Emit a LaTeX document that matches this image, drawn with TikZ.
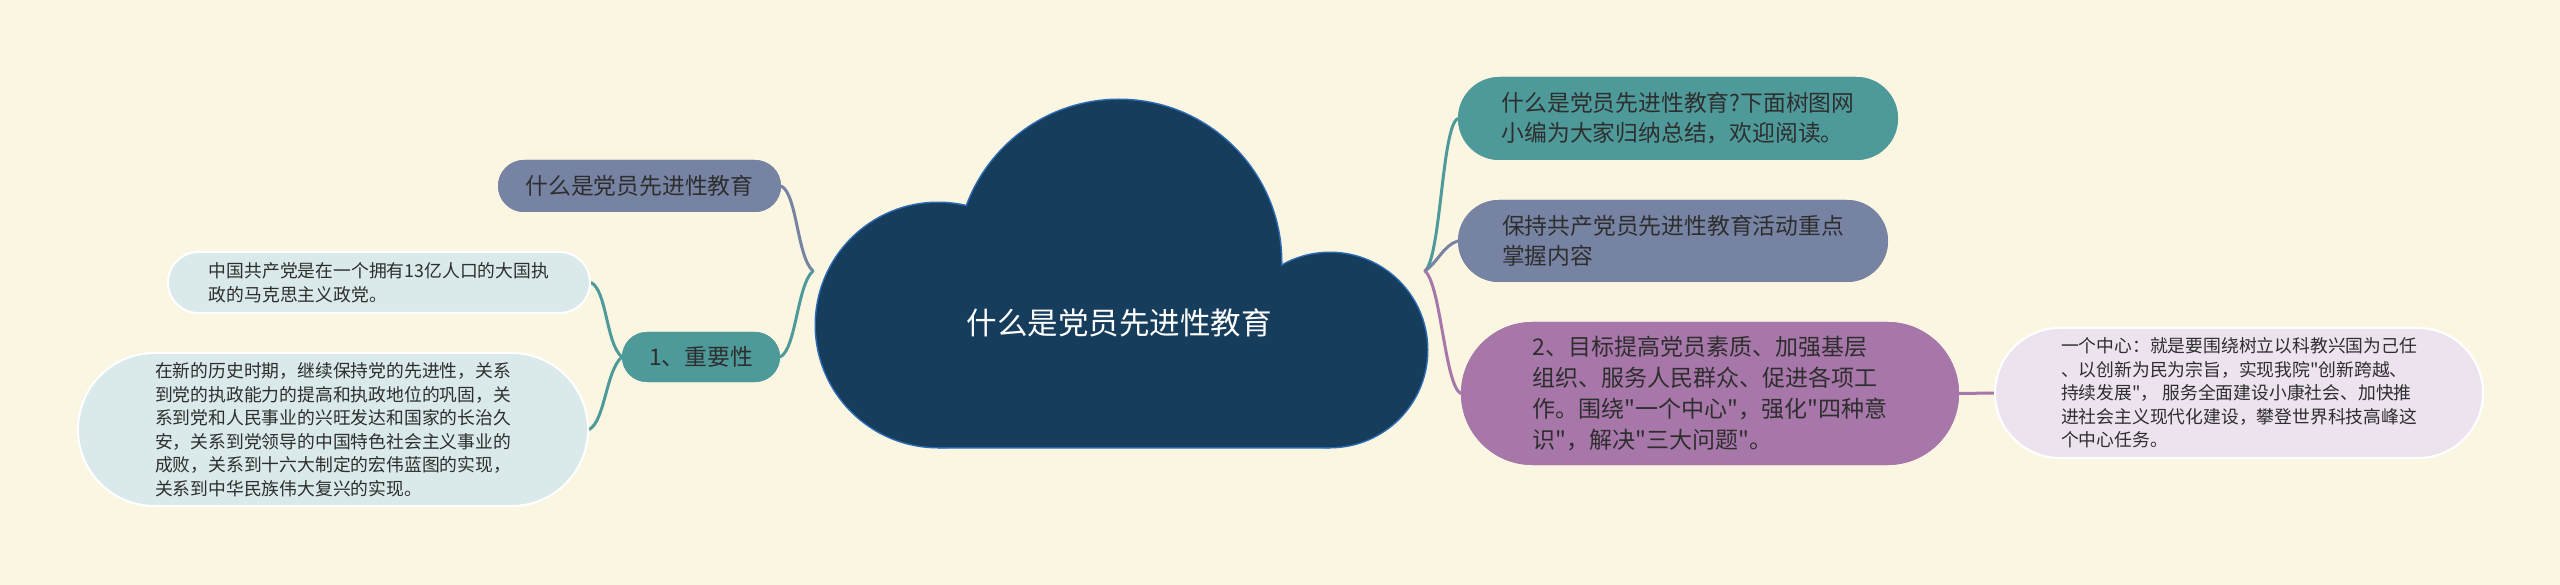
\documentclass[tikz,border=0pt]{standalone}
\usepackage{fontspec}
\setmainfont{Noto Sans CJK SC}[Ligatures=TeXOff]
\usetikzlibrary{calc}
\definecolor{bgc}{HTML}{FAF6E1}
\definecolor{cloudfill}{HTML}{173D5D}
\definecolor{cloudline}{HTML}{2D6CB5}
\definecolor{gbc}{HTML}{7783A3}
\definecolor{tealc}{HTML}{4E9A9A}
\definecolor{purc}{HTML}{A777A9}
\definecolor{leafb}{HTML}{DAE9EA}
\definecolor{leafp}{HTML}{EDE3EF}
\definecolor{txt}{HTML}{2E2E2E}
\begin{document}
\begin{tikzpicture}[x=1pt,y=-1pt,
  pill/.style={rectangle, inner sep=0pt, text=txt, align=left},
  leaf/.style={pill, draw=white, line width=2pt},
  big/.style={font=\fontsize{22.8}{30}\selectfont},
  small/.style={font=\fontsize{17.8}{23.5}\selectfont},
  conn/.style={line width=3pt, line cap=round}]
\fill[bgc] (0,0) rectangle (2560,585);
\useasboundingbox (0,0) rectangle (2560,585);
% junctions
\coordinate (jl) at (813,271);
\coordinate (jr) at (1425,271);
% nodes
\path
  node[pill, big, fill=gbc, minimum width=283pt, minimum height=52pt, rounded corners=26pt] (p1) at (639.5,186) {什么是党员先进性教育}
  node[pill, big, fill=tealc, minimum width=158pt, minimum height=50pt, rounded corners=25pt] (p2) at (701,357) {1、重要性}
  node[leaf, small, fill=leafb, minimum width=422pt, minimum height=61pt, rounded corners=30.5pt] (l1) at (379,282.5) {中国共产党是在一个拥有13亿人口的大国执\\政的马克思主义政党。}
  node[leaf, small, fill=leafb, minimum width=510pt, minimum height=153pt, rounded corners=76.5pt] (l2) at (333,429.5) {在新的历史时期，继续保持党的先进性，关系\\到党的执政能力的提高和执政地位的巩固，关\\系到党和人民事业的兴旺发达和国家的长治久\\安，关系到党领导的中国特色社会主义事业的\\成败，关系到十六大制定的宏伟蓝图的实现，\\关系到中华民族伟大复兴的实现。}
  node[pill, big, fill=tealc, minimum width=440pt, minimum height=83pt, rounded corners=41.5pt] (p5) at (1678,118.5) {什么是党员先进性教育?下面树图网\\小编为大家归纳总结，欢迎阅读。}
  node[pill, big, fill=gbc, minimum width=430pt, minimum height=82pt, rounded corners=41pt] (p6) at (1673,241) {保持共产党员先进性教育活动重点\\掌握内容}
  node[pill, font=\fontsize{23}{31}\selectfont, fill=purc, minimum width=498pt, minimum height=143pt, rounded corners=71.5pt] (p7) at (1710,393.5) {2、目标提高党员素质、加强基层\\组织、服务人民群众、促进各项工\\作。围绕"一个中心"，强化"四种意\\识"，解决"三大问题"。}
  node[leaf, small, fill=leafp, minimum width=488pt, minimum height=130pt, rounded corners=65pt] (l3) at (2239,393) {一个中心：就是要围绕树立以科教兴国为己任\\、以创新为民为宗旨，实现我院"创新跨越、\\持续发展"， 服务全面建设小康社会、加快推\\进社会主义现代化建设，攀登世界科技高峰这\\个中心任务。};
% connectors
\draw[conn, gbc] (p1.east) .. controls ($(p1.east)+(16,8)$) and ($(jl)+(-16,-14)$) .. (jl);
\draw[conn, tealc] (p2.east) .. controls ($(p2.east)+(16,-8)$) and ($(jl)+(-16,14)$) .. (jl);
\draw[conn, tealc] (l1.east) .. controls ($(l1.east)+(16,8)$) and ($(p2.west)+(-16,-14)$) .. (p2.west);
\draw[conn, tealc] (l2.east) .. controls ($(l2.east)+(16,-8)$) and ($(p2.west)+(-16,14)$) .. (p2.west);
\draw[conn, tealc] (jr) .. controls ($(jr)+(16,-14)$) and ($(p5.west)+(-16,8)$) .. (p5.west);
\draw[conn, gbc] (jr) .. controls ($(jr)+(12,-8)$) and ($(p6.west)+(-14,4)$) .. (p6.west);
\draw[conn, purc] (jr) .. controls ($(jr)+(16,14)$) and ($(p7.west)+(-16,-8)$) .. (p7.west);
\draw[conn, purc] (p7.east) -- (l3.west);
% cloud: outlines then fills (union)
\begin{scope}[line join=round]
\draw[cloudline, line width=3pt] (938,325) circle[radius=122];
\draw[cloudline, line width=3pt] (1119,262) circle[radius=162];
\draw[cloudline, line width=3pt] (1330,350) circle[radius=97];
\draw[cloudline, line width=3pt] (938,447) -- (1330,447) -- (1330,350) -- (1119,262) -- (938,325) -- cycle;
\fill[cloudfill] (938,325) circle[radius=122];
\fill[cloudfill] (1119,262) circle[radius=162];
\fill[cloudfill] (1330,350) circle[radius=97];
\fill[cloudfill] (938,447) -- (1330,447) -- (1330,350) -- (1119,262) -- (938,325) -- cycle;
\end{scope}
\node[text=white, font=\fontsize{30.5}{36}\selectfont, inner sep=0pt] (root) at (1119,323) {什么是党员先进性教育};
% redraw nodes on top of connector ends
\path
  node[pill, big, fill=gbc, minimum width=283pt, minimum height=52pt, rounded corners=26pt] at (p1) {什么是党员先进性教育}
  node[pill, big, fill=tealc, minimum width=158pt, minimum height=50pt, rounded corners=25pt] at (p2) {1、重要性}
  node[leaf, small, fill=leafb, minimum width=422pt, minimum height=61pt, rounded corners=30.5pt] at (l1) {中国共产党是在一个拥有13亿人口的大国执\\政的马克思主义政党。}
  node[leaf, small, fill=leafb, minimum width=510pt, minimum height=153pt, rounded corners=76.5pt] at (l2) {在新的历史时期，继续保持党的先进性，关系\\到党的执政能力的提高和执政地位的巩固，关\\系到党和人民事业的兴旺发达和国家的长治久\\安，关系到党领导的中国特色社会主义事业的\\成败，关系到十六大制定的宏伟蓝图的实现，\\关系到中华民族伟大复兴的实现。}
  node[pill, big, fill=tealc, minimum width=440pt, minimum height=83pt, rounded corners=41.5pt] at (p5) {什么是党员先进性教育?下面树图网\\小编为大家归纳总结，欢迎阅读。}
  node[pill, big, fill=gbc, minimum width=430pt, minimum height=82pt, rounded corners=41pt] at (p6) {保持共产党员先进性教育活动重点\\掌握内容}
  node[pill, font=\fontsize{23}{31}\selectfont, fill=purc, minimum width=498pt, minimum height=143pt, rounded corners=71.5pt] at (p7) {2、目标提高党员素质、加强基层\\组织、服务人民群众、促进各项工\\作。围绕"一个中心"，强化"四种意\\识"，解决"三大问题"。}
  node[leaf, small, fill=leafp, minimum width=488pt, minimum height=130pt, rounded corners=65pt] at (l3) {一个中心：就是要围绕树立以科教兴国为己任\\、以创新为民为宗旨，实现我院"创新跨越、\\持续发展"， 服务全面建设小康社会、加快推\\进社会主义现代化建设，攀登世界科技高峰这\\个中心任务。};
\end{tikzpicture}
\end{document}
